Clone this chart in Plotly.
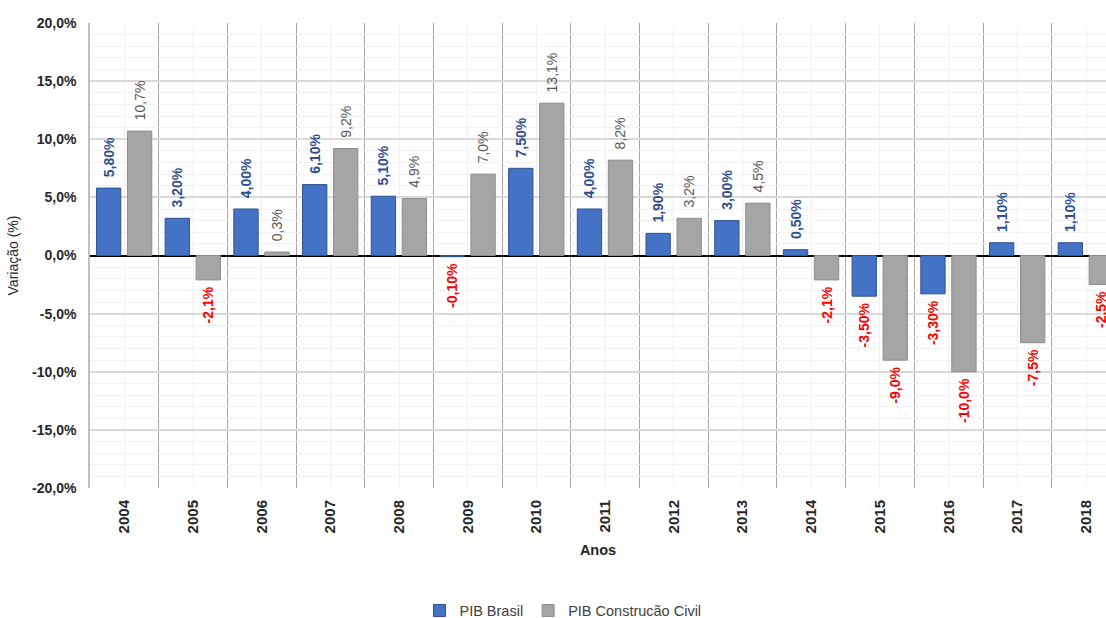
import plotly.graph_objects as go

# Annual GDP growth: Brazil vs. construction sector
anos = ["2004", "2005", "2006", "2007", "2008", "2009", "2010", "2011",
        "2012", "2013", "2014", "2015", "2016", "2017", "2018"]
pib_brasil = [5.8, 3.2, 4.0, 6.1, 5.1, -0.1, 7.5, 4.0, 1.9, 3.0, 0.5, -3.5, -3.3, 1.1, 1.1]
pib_construcao = [10.7, -2.1, 0.3, 9.2, 4.9, 7.0, 13.1, 8.2, 3.2, 4.5, -2.1, -9.0, -10.0, -7.5, -2.5]

y_ticks = [-20, -15, -10, -5, 0, 5, 10, 15, 20]

BLUE = "#4472C4"
GRAY = "#A5A5A5"
FONT = "Liberation Sans, Arial, sans-serif"
PAD = "\u00a0"


def fmt(v, dec):
    return f"{v:.{dec}f}".replace(".", ",") + "%"


def labels(vals, dec, bold_pos):
    out = []
    for v in vals:
        s = fmt(v, dec)
        if v < 0 or bold_pos:
            s = f"<b>{s}</b>"
        out.append(PAD * 2 + s if v >= 0 else s + PAD)
    return out


x = list(range(len(anos)))

fig = go.Figure()
fig.add_trace(go.Bar(
    x=x, y=pib_brasil, name="PIB Brasil",
    width=0.354, offset=-0.406,
    marker=dict(color=BLUE, line=dict(color="#2F528F", width=1)),
    text=labels(pib_brasil, 2, True),
    textposition="outside", textangle=-90, constraintext="none", cliponaxis=False,
    textfont=dict(family=FONT, size=14,
                  color=["#FF0000" if v < 0 else "#2F4F8F" for v in pib_brasil]),
    hoverinfo="skip",
))
fig.add_trace(go.Bar(
    x=x, y=pib_construcao, name="PIB Construcão Civil",
    width=0.354, offset=0.045,
    marker=dict(color=GRAY, line=dict(color="#8C8C8C", width=1)),
    text=labels(pib_construcao, 1, False),
    textposition="outside", textangle=-90, constraintext="none", cliponaxis=False,
    textfont=dict(family=FONT, size=14,
                  color=["#FF0000" if v < 0 else "#595959" for v in pib_construcao]),
    hoverinfo="skip",
))

fig.update_layout(
    width=1106, height=618,
    margin=dict(l=90, r=0, t=23, b=130),
    paper_bgcolor="white", plot_bgcolor="white",
    font=dict(family=FONT, color="#262626"),
    barmode="overlay",
    showlegend=True,
    legend=dict(orientation="h", xref="container", yref="container",
                x=0.509, y=0.012, xanchor="center", yanchor="middle",
                font=dict(size=14.5, color="#404040"), itemwidth=30,
                traceorder="normal"),
)

fig.update_xaxes(
    range=[-0.5, 14.29],
    tickmode="array", tickvals=x, ticktext=[f"<b>{a}</b>" for a in anos],
    tickangle=-90, tickfont=dict(size=15, color="#262626"),
    ticks="", ticklabelstandoff=8,
    showgrid=True, gridcolor="#F0F0F0", gridwidth=1,
    minor=dict(tick0=0.5, dtick=1, showgrid=True, gridcolor="#A6A6A6", gridwidth=1),
    showline=False, zeroline=False,
    title=dict(text="<b>Anos</b>", font=dict(size=14.5, color="#262626"), standoff=12),
)

fig.update_yaxes(
    range=[-20, 20],
    tickmode="array", tickvals=y_ticks,
    ticktext=[f"<b>{fmt(v, 1)}</b>" for v in y_ticks],
    tickfont=dict(size=14, color="#262626"),
    ticks="", ticklabelstandoff=9,
    showgrid=True, gridcolor="#D9D9D9", gridwidth=1.5,
    minor=dict(dtick=1, showgrid=True, gridcolor="#F2F2F2", gridwidth=1),
    zeroline=True, zerolinecolor="#000000", zerolinewidth=1.5,
    showline=True, linecolor="#BFBFBF", linewidth=1.5,
    title=dict(text="Variação (%)", font=dict(size=14, color="#262626"), standoff=10),
)

fig.write_html("out.html")
